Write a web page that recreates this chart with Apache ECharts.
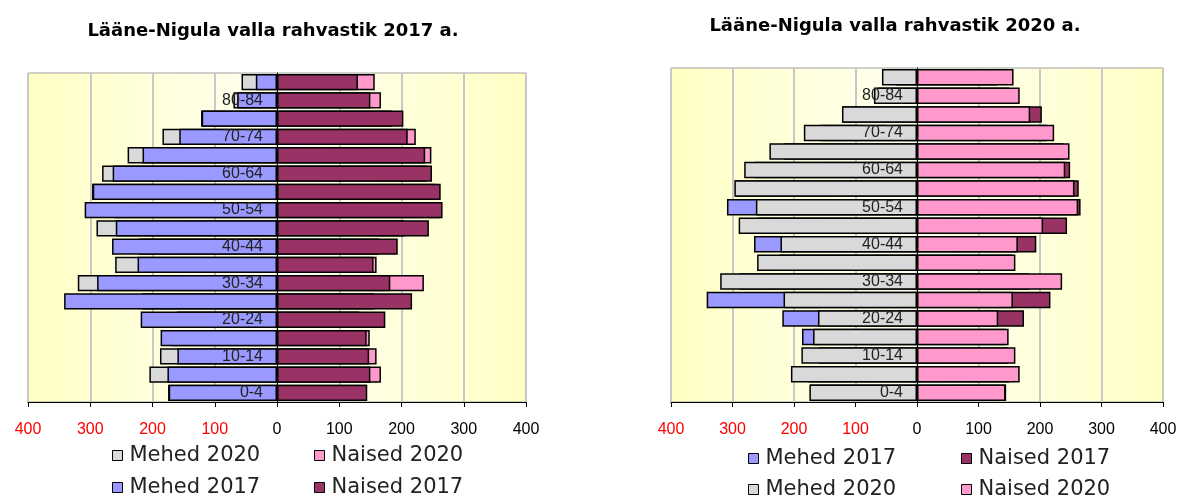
<!DOCTYPE html>
<html>
<head>
<meta charset="utf-8">
<script src="https://cdn.jsdelivr.net/npm/echarts@6/dist/echarts.min.js"></script>
<style>
  html, body { margin: 0; padding: 0; background: #fff; }
  #main { width: 1187px; height: 500px; }
</style>
</head>
<body>
<div id="main"></div>
<script>
// vanusegrupid, alt -> üles
const ages = ['0-4', '5-9', '10-14', '15-19', '20-24', '25-29', '30-34', '35-39', '40-44',
  '45-49', '50-54', '55-59', '60-64', '65-69', '70-74', '75-79', '80-84', '85+'];
const mehed2017 = [174, 176, 160, 187, 219, 342, 289, 224, 265, 259, 309, 296, 264, 216, 157, 121, 64, 34];
const mehed2020 = [175, 205, 188, 169, 161, 217, 320, 260, 222, 290, 262, 297, 281, 240, 184, 122, 70, 57];
const naised2017 = [145, 150, 148, 144, 174, 217, 182, 155, 194, 244, 266, 263, 249, 238, 210, 203, 150, 130];
const naised2020 = [144, 167, 160, 149, 132, 156, 236, 160, 164, 205, 262, 256, 241, 248, 223, 184, 167, 157];
const xTicks = [-400, -300, -200, -100, 0, 100, 200, 300, 400];

const colors = {
  'Mehed 2017': '#9999FF',
  'Mehed 2020': '#D9D9D9',
  'Naised 2017': '#993366',
  'Naised 2020': '#FF99CC'
};
const font = 'Liberation Sans, Arial, sans-serif';
const vfont = 'DejaVu Sans, Verdana, sans-serif';

const plotBg = new echarts.graphic.LinearGradient(0, 0, 1, 0, [
  { offset: 0, color: '#FFFFC4' },
  { offset: 0.5, color: '#FFFFF2' },
  { offset: 1, color: '#FFFFC4' }
]);

const grids = [
  { left: 28, top: 73, width: 498, height: 329 },
  { left: 671, top: 68, width: 492, height: 334 }
];

const makeX = (gridIndex) => ({
  type: 'value',
  gridIndex,
  min: xTicks[0],
  max: xTicks[xTicks.length - 1],
  interval: 100,
  axisLine: { show: true, onZero: false, lineStyle: { color: '#000', width: 1 } },
  axisTick: { show: true, length: 5, lineStyle: { color: '#000' } },
  axisLabel: {
    fontFamily: font,
    fontSize: 16,
    margin: 20,
    color: (v) => (Number(v) < 0 ? '#FF0000' : '#000'),
    formatter: (v) => Math.abs(v)
  },
  splitLine: { show: true, lineStyle: { color: '#C8C8C8', width: 2 } }
});

// telg nihutatakse nulli kohale (offset), et sildid oleksid keskel
const makeY = (gridIndex) => ({
  type: 'category',
  gridIndex,
  data: ages,
  z: 10,
  offset: -grids[gridIndex].width / 2,
  axisLine: { show: true, onZero: false, lineStyle: { color: '#000', width: 1 } },
  axisTick: { show: false },
  axisLabel: {
    interval: 1,
    fontFamily: font,
    fontSize: 16,
    color: '#222',
    margin: 14
  },
  splitLine: { show: false }
});

const bar = (name, data, idx, negative) => ({
  type: 'bar',
  name,
  xAxisIndex: idx,
  yAxisIndex: idx,
  data: negative ? data.map((v) => -v) : data,
  barGap: '-100%',
  barCategoryGap: '11%',
  itemStyle: { color: colors[name], borderColor: '#000', borderWidth: 1.5 },
  emphasis: { disabled: true }
});

const legendItem = (name, left, top) => ({
  data: [name],
  left,
  top,
  icon: 'rect',
  itemWidth: 10,
  itemHeight: 10,
  itemGap: 0,
  padding: 0,
  selectedMode: false,
  itemStyle: { borderColor: '#000', borderWidth: 1 },
  textStyle: { fontFamily: vfont, fontSize: 21, color: '#222', padding: [0, 0, 0, 2] }
});

const option = {
  backgroundColor: '#fff',
  animation: false,
  title: [
    {
      text: 'Lääne-Nigula valla rahvastik 2017 a.',
      left: 268, top: 17, textAlign: 'center',
      textStyle: { fontFamily: vfont, fontSize: 18, fontWeight: 'bold', color: '#000' }
    },
    {
      text: 'Lääne-Nigula valla rahvastik 2020 a.',
      left: 890, top: 12, textAlign: 'center',
      textStyle: { fontFamily: vfont, fontSize: 18, fontWeight: 'bold', color: '#000' }
    }
  ],
  grid: grids.map((g) => ({
    ...g,
    outerBoundsMode: 'none',
    containLabel: false,
    show: true,
    backgroundColor: plotBg,
    borderColor: '#A0A0A0',
    borderWidth: 1
  })),
  legend: [
    legendItem('Mehed 2020', 112, 445),
    legendItem('Naised 2020', 314, 445),
    legendItem('Mehed 2017', 112, 477),
    legendItem('Naised 2017', 314, 477),
    legendItem('Mehed 2017', 748, 448),
    legendItem('Naised 2017', 961, 448),
    legendItem('Mehed 2020', 748, 479),
    legendItem('Naised 2020', 961, 479)
  ],
  xAxis: [makeX(0), makeX(1)],
  yAxis: [makeY(0), makeY(1)],
  series: [
    bar('Mehed 2020', mehed2020, 0, true),
    bar('Mehed 2017', mehed2017, 0, true),
    bar('Naised 2020', naised2020, 0, false),
    bar('Naised 2017', naised2017, 0, false),
    bar('Mehed 2017', mehed2017, 1, true),
    bar('Mehed 2020', mehed2020, 1, true),
    bar('Naised 2017', naised2017, 1, false),
    bar('Naised 2020', naised2020, 1, false)
  ]
};

const myChart = echarts.init(document.getElementById('main'));
myChart.setOption(option);
</script>
</body>
</html>
